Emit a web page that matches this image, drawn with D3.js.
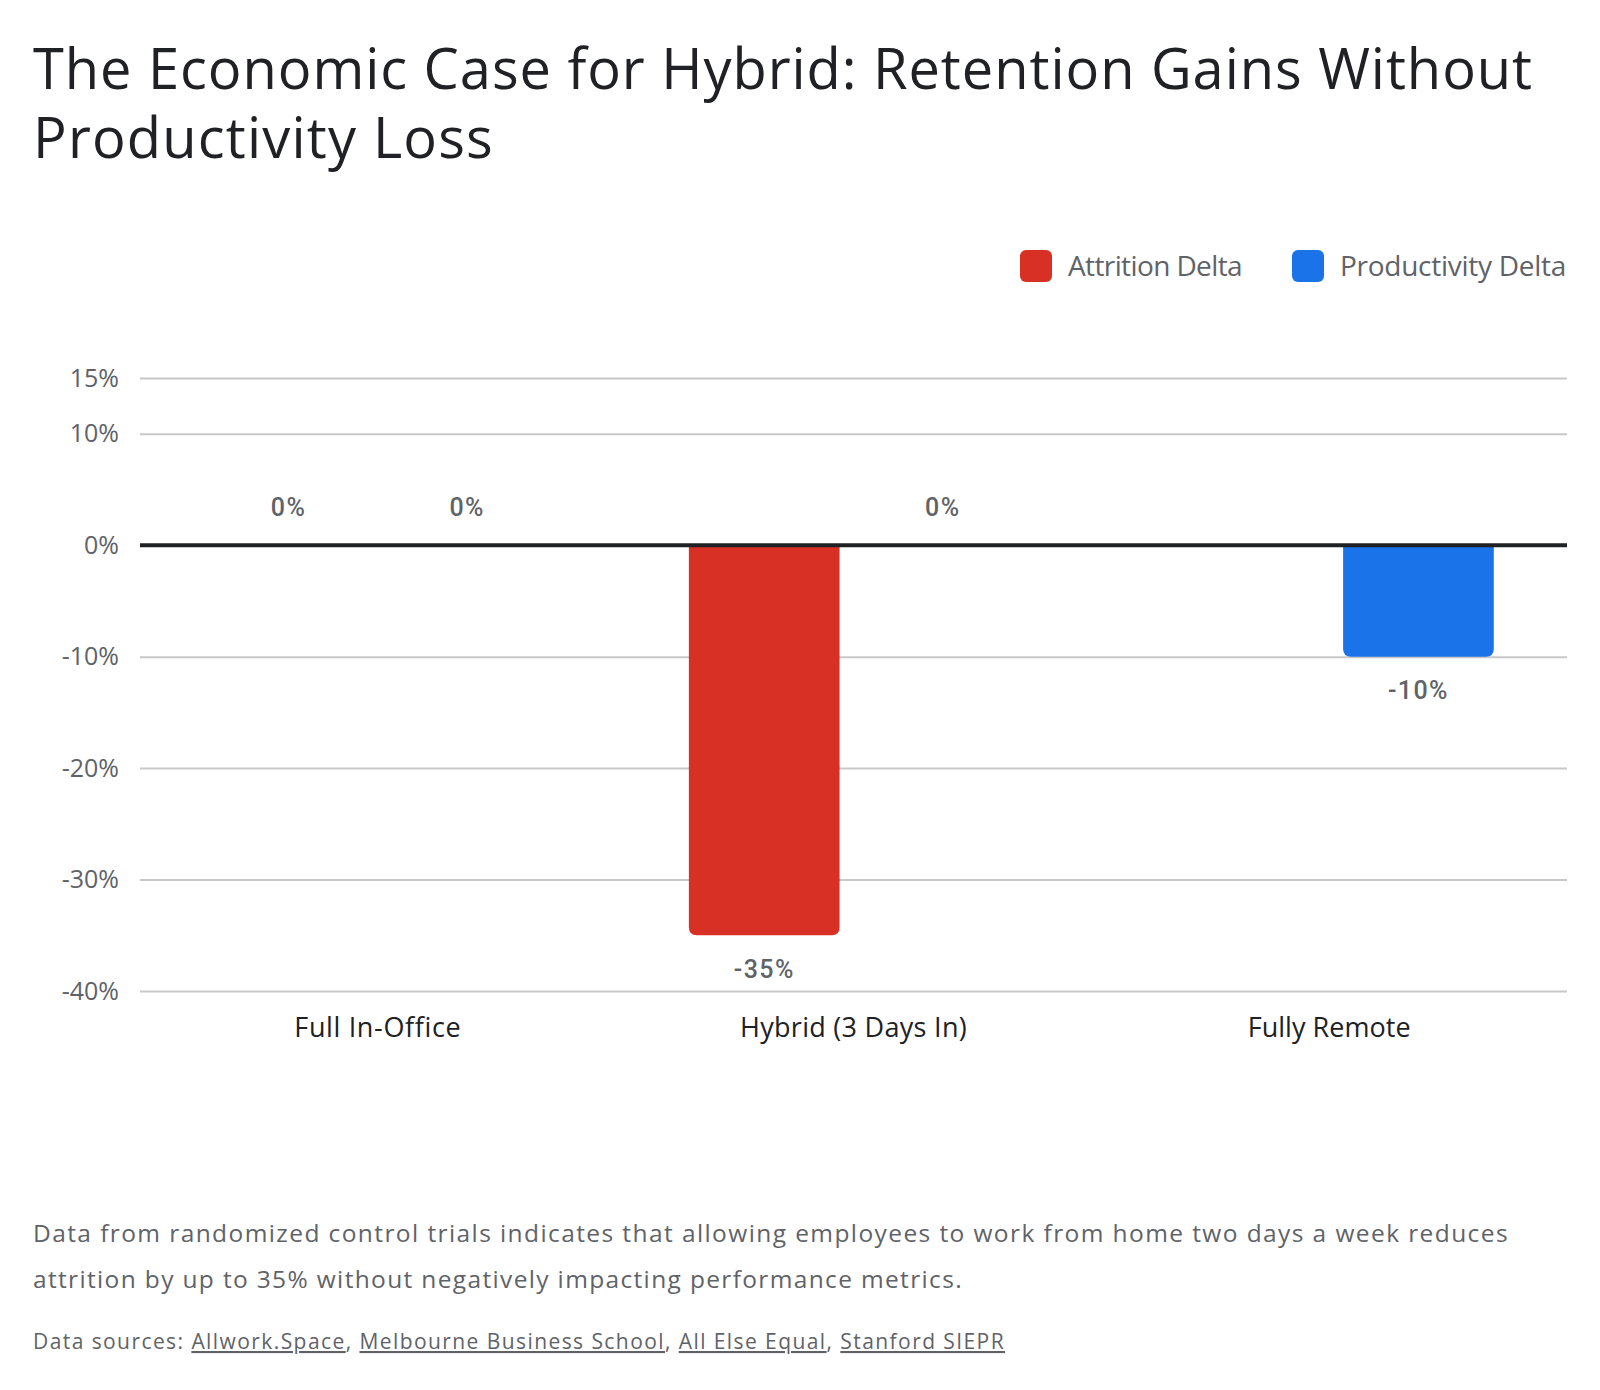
<!DOCTYPE html>
<html>
<head>
<meta charset="utf-8">
<script src="https://cdn.jsdelivr.net/npm/d3@7"></script>
<style>
  html, body { margin: 0; padding: 0; background: #ffffff; }
  svg { display: block; }
  text { font-family: "Google Sans", "Open Sans", Roboto, sans-serif; }
</style>
</head>
<body>
<svg id="chart" width="1600" height="1390"></svg>
<script>
const categories = ["Full In-Office", "Hybrid (3 Days In)", "Fully Remote"];
const seriesNames = ["Attrition Delta", "Productivity Delta"];
const attritionDelta = [0, -35, null];
const productivityDelta = [0, 0, -10];
const seriesColors = ["#d93025", "#1a73e8"];
const yTickValues = [15, 10, 0, -10, -20, -30, -40];
const titleLines = ["The Economic Case for Hybrid: Retention Gains Without", "Productivity Loss"];
const noteLines = [
  "Data from randomized control trials indicates that allowing employees to work from home two days a week reduces",
  "attrition by up to 35% without negatively impacting performance metrics."
];
const sourcePrefix = "Data sources: ";
const sources = ["Allwork.Space", "Melbourne Business School", "All Else Equal", "Stanford SIEPR"];

const seriesValues = [attritionDelta, productivityDelta];
const rows = categories.map((c, i) => ({
  category: c,
  values: seriesNames.map((s, j) => ({ series: s, idx: j, value: seriesValues[j][i] }))
}));

// adjust letter-spacing so that a text element spans the target width
function fit(node, target) {
  const w = node.getComputedTextLength();
  const n = node.textContent.length;
  if (n > 1) d3.select(node).attr("letter-spacing", ((target - w) / n).toFixed(3));
}

const svg = d3.select("#chart");
const plot = { left: 140, right: 1567, top: 378, bottom: 991 };

// Title
const titleTargets = [1500, 461];
titleLines.forEach((t, i) => {
  const el = svg.append("text").attr("x", 33).attr("y", 89 + i * 69)
    .attr("fill", "#202124").attr("font-size", 56).text(t);
  fit(el.node(), titleTargets[i]);
});

// Scales
const y = d3.scaleLinear().domain([-40, 15]).range([plot.bottom, plot.top]);
const x0 = d3.scaleBand().domain(categories).range([plot.left, plot.right]).padding(0);
const x1 = d3.scaleBand().domain(seriesNames).range([0, x0.bandwidth()])
  .paddingInner(0.156).paddingOuter(0.41);
const color = d3.scaleOrdinal().domain(seriesNames).range(seriesColors);

// Gridlines + y labels via axis
const yAxis = d3.axisLeft(y).tickValues(yTickValues).tickFormat(d => d + "%")
  .tickSize(-(plot.right - plot.left)).tickPadding(21);
const gy = svg.append("g").attr("transform", `translate(${plot.left},0)`).call(yAxis);
gy.select(".domain").remove();
gy.selectAll(".tick line").attr("stroke", "#c8c8c8").attr("stroke-width", 2);
gy.selectAll(".tick text").attr("fill", "#5f6368").attr("font-size", 25)
  .style("font-family", "'Google Sans', 'Open Sans', Roboto, sans-serif");

// Bars
const r = 8;
function barPath(bx, w, v) {
  const y0 = y(0), y1 = y(v);
  if (v < 0) {
    const rr = Math.min(r, (y1 - y0));
    return `M${bx},${y0}H${bx + w}V${y1 - rr}Q${bx + w},${y1} ${bx + w - rr},${y1}H${bx + rr}Q${bx},${y1} ${bx},${y1 - rr}Z`;
  } else {
    const rr = Math.min(r, (y0 - y1));
    return `M${bx},${y0}H${bx + w}V${y1 + rr}Q${bx + w},${y1} ${bx + w - rr},${y1}H${bx + rr}Q${bx},${y1} ${bx},${y1 + rr}Z`;
  }
}
const groups = svg.append("g").selectAll("g").data(rows).join("g")
  .attr("transform", d => `translate(${x0(d.category)},0)`);
groups.selectAll("path").data(d => d.values.filter(v => v.value !== null && v.value !== 0))
  .join("path")
  .attr("d", d => barPath(x1(d.series), x1.bandwidth(), d.value))
  .attr("fill", d => color(d.series));
const vals = groups.selectAll("text.val").data(d => d.values.filter(v => v.value !== null))
  .join("text").attr("class", "val")
  .attr("x", d => x1(d.series) + x1.bandwidth() / 2)
  .attr("y", d => d.value < 0 ? y(d.value) + 34 : y(d.value) - 38)
  .attr("text-anchor", "middle").attr("dominant-baseline", "central")
  .attr("fill", "#5f6368").attr("font-size", 25).attr("font-weight", 500)
  .style("font-family", "'Google Sans', Roboto, sans-serif")
  .text(d => d.value + "%");
vals.each(function(d) {
  const w = this.getComputedTextLength();
  if (d.value === -35) {
    const ls = (61 - w) / this.textContent.length;
    vals.attr("letter-spacing", ls.toFixed(3));
  }
});

// zero line above bars
svg.append("line").attr("x1", plot.left).attr("x2", plot.right)
  .attr("y1", y(0)).attr("y2", y(0)).attr("stroke", "#202124").attr("stroke-width", 4);

// Category labels
const catTargets = [167, 227, 163];
svg.append("g").selectAll("text").data(categories).join("text")
  .attr("x", d => x0(d) + x0.bandwidth() / 2).attr("y", 1037)
  .attr("text-anchor", "middle").attr("fill", "#202124").attr("font-size", 27)
  .text(d => d)
  .each(function(d, i) { fit(this, catTargets[i]); });

// Legend (right aligned to 1566)
const legendTargets = [174, 226];
const lg = svg.append("g");
const lgTexts = seriesNames.map((s, i) => {
  const t = lg.append("text").attr("y", 276).attr("fill", "#5f6368")
    .attr("font-size", 28).text(s);
  fit(t.node(), legendTargets[i]);
  return t;
});
let right = 1566;
for (let i = seriesNames.length - 1; i >= 0; i--) {
  const tx = right - legendTargets[i];
  lgTexts[i].attr("x", tx);
  lg.append("rect").attr("x", tx - 48).attr("y", 250).attr("width", 32).attr("height", 32)
    .attr("rx", 6).attr("fill", color(seriesNames[i]));
  right = tx - 48 - 50;
}

// Note
const noteTargets = [1476, 930];
noteLines.forEach((t, i) => {
  const el = svg.append("text").attr("x", 33).attr("y", 1242 + i * 46)
    .attr("fill", "#5f6368").attr("font-size", 24.5).text(t);
  fit(el.node(), noteTargets[i]);
});

// Sources
const src = svg.append("text").attr("x", 33).attr("y", 1349).attr("fill", "#5f6368").attr("font-size", 21);
src.append("tspan").text(sourcePrefix);
sources.forEach((s, i) => {
  src.append("tspan").style("text-decoration", "underline").text(s);
  if (i < sources.length - 1) src.append("tspan").text(", ");
});
fit(src.node(), 972);
</script>
</body>
</html>
